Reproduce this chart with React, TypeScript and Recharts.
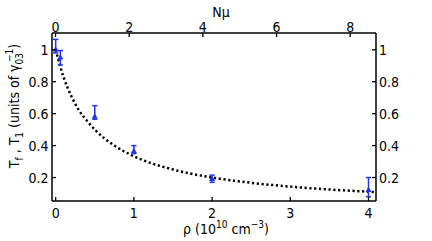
import React from "react";
import {
  ComposedChart,
  Line,
  Scatter,
  ErrorBar,
  XAxis,
  YAxis,
  ZAxis,
} from "recharts";

// measured decay times vs density
const rho = [0.0, 0.06, 0.5, 1.0, 2.0, 4.0];
const tMeas = [1.0, 0.95, 0.58, 0.365, 0.19, 0.12];
const errLow = [0.02, 0.045, 0.015, 0.015, 0.02, 0.04];
const errHigh = [0.065, 0.045, 0.07, 0.035, 0.025, 0.08];

// dotted model curve
const curveRho = [0, 0.1, 0.2, 0.3, 0.4, 0.5, 0.75, 1.0, 1.5, 2.0, 2.5, 3.0, 3.5, 4.0, 4.1];
const curveT = [1.0, 0.83, 0.71, 0.62, 0.555, 0.5, 0.4, 0.333, 0.25, 0.2, 0.167, 0.143, 0.125, 0.111, 0.108];

const rhoTicks = [0, 1, 2, 3, 4];
const nTicks = [0, 2, 4, 6, 8];
const tTicks = [0.2, 0.4, 0.6, 0.8, 1];

const Y_MIN = 0.053;
const Y_MAX = 1.105;

const points = rho.map((r, i) => ({
  rho: r,
  t: tMeas[i],
  err: [errLow[i], errHigh[i]],
}));
const curve = curveRho.map((r, i) => ({ rho: r, t: curveT[i] }));
// invisible anchor so the top Nμ axis gets drawn
const topAnchor = nTicks.map((n) => ({ n, t: Y_MIN }));

const FONT = "'Liberation Sans Narrow', 'DejaVu Sans Condensed', 'Liberation Sans', Arial, sans-serif";
const BLUE = "#2236f2";
const TICK = 4;

const fmt = (v: number) => String(v);

const BottomTick = (p: any) => (
  <g>
    <line x1={p.x} x2={p.x} y1={p.y} y2={p.y - TICK} stroke="#000" strokeWidth={1.3} />
    <text x={p.x} y={p.y + 16.5} textAnchor="middle" fontFamily={FONT} fontSize={14} fill="#000">
      {fmt(p.payload.value)}
    </text>
  </g>
);

const TopTick = (p: any) => (
  <g>
    <line x1={p.x} x2={p.x} y1={p.y} y2={p.y + TICK} stroke="#000" strokeWidth={1.3} />
    <text x={p.x} y={p.y - 1.5} textAnchor="middle" fontFamily={FONT} fontSize={14} fill="#000">
      {fmt(p.payload.value)}
    </text>
  </g>
);

const LeftTick = (p: any) => (
  <g>
    <line x1={p.x} x2={p.x + TICK} y1={p.y} y2={p.y} stroke="#000" strokeWidth={1.3} />
    <text x={p.x - 3.5} y={p.y + 5} textAnchor="end" fontFamily={FONT} fontSize={14} fill="#000">
      {fmt(p.payload.value)}
    </text>
  </g>
);

const RightTick = (p: any) => (
  <g>
    <line x1={p.x} x2={p.x - TICK} y1={p.y} y2={p.y} stroke="#000" strokeWidth={1.3} />
    <text x={p.x + 3} y={p.y + 5} textAnchor="start" fontFamily={FONT} fontSize={14} fill="#000">
      {fmt(p.payload.value)}
    </text>
  </g>
);

const XLabel = () => (
  <text x={226} y={234} textAnchor="middle" fontFamily={FONT} fontSize={14} fill="#000">
    ρ (10
    <tspan dy={-6} fontSize={10}>10</tspan>
    <tspan dy={6}> cm</tspan>
    <tspan dy={-6} fontSize={10}>−3</tspan>
    <tspan dy={6}>)</tspan>
  </text>
);

const TopLabel = () => (
  <text x={221} y={17} textAnchor="middle" fontFamily={FONT} fontSize={14} fill="#000">
    Nμ
  </text>
);

const YLabel = () => (
  <text
    x={0}
    y={0}
    transform="translate(19, 106) rotate(-90)"
    textAnchor="middle"
    fontFamily={FONT}
    fontSize={14}
    fill="#000"
  >
    T
    <tspan dy={4} fontSize={10}>f</tspan>
    <tspan dy={-4}> , T</tspan>
    <tspan dy={4} fontSize={10}>1</tspan>
    <tspan dy={-4}> (units of γ</tspan>
    <tspan dy={4} fontSize={10}>03</tspan>
    <tspan dx={-9} dy={-10} fontSize={10}>−1</tspan>
    <tspan dy={6}>)</tspan>
  </text>
);

export default function App() {
  return (
    <div style={{ position: "absolute", left: 0, top: 0, background: "#fff" }}>
      <ComposedChart width={432} height={241} margin={{ top: 0, right: 0, bottom: 0, left: 0 }}>
        <XAxis
          xAxisId="rho"
          dataKey="rho"
          type="number"
          domain={[-0.047, 4.096]}
          allowDataOverflow
          ticks={rhoTicks}
          height={40}
          tickSize={0}
          tickMargin={0}
          tick={BottomTick}
          tickLine={false}
          axisLine={{ stroke: "#000", strokeWidth: 1.5 }}
          label={{ content: XLabel }}
        />
        <XAxis
          xAxisId="n"
          dataKey="n"
          orientation="top"
          type="number"
          domain={[-0.095, 8.7]}
          allowDataOverflow
          ticks={nTicks}
          height={33}
          tickSize={0}
          tickMargin={0}
          tick={TopTick}
          tickLine={false}
          axisLine={{ stroke: "#000", strokeWidth: 1.5 }}
          label={{ content: TopLabel }}
        />
        <YAxis
          yAxisId="left"
          type="number"
          domain={[Y_MIN, Y_MAX]}
          allowDataOverflow
          ticks={tTicks}
          width={52}
          tickSize={0}
          tickMargin={0}
          tick={LeftTick}
          tickLine={false}
          axisLine={{ stroke: "#000", strokeWidth: 1.5 }}
          label={{ content: YLabel }}
        />
        <YAxis
          yAxisId="right"
          orientation="right"
          type="number"
          domain={[Y_MIN, Y_MAX]}
          allowDataOverflow
          ticks={tTicks}
          width={56}
          tickSize={0}
          tickMargin={0}
          tick={RightTick}
          tickLine={false}
          axisLine={{ stroke: "#000", strokeWidth: 1.5 }}
        />
        <ZAxis range={[16, 16]} />
        <Scatter
          xAxisId="n"
          yAxisId="right"
          data={topAnchor}
          dataKey="t"
          shape={() => <g />}
          isAnimationActive={false}
        />
        <Line
          xAxisId="rho"
          yAxisId="left"
          data={curve}
          dataKey="t"
          type="monotone"
          stroke="#000"
          strokeWidth={2.5}
          strokeDasharray="2.2 2.6"
          dot={false}
          activeDot={false}
          isAnimationActive={false}
        />
        <Scatter
          xAxisId="rho"
          yAxisId="left"
          data={points}
          dataKey="t"
          fill={BLUE}
          shape="triangle"
          isAnimationActive={false}
        >
          <ErrorBar dataKey="err" direction="y" width={2.6} stroke={BLUE} strokeWidth={1.5} />
        </Scatter>
      </ComposedChart>
    </div>
  );
}
